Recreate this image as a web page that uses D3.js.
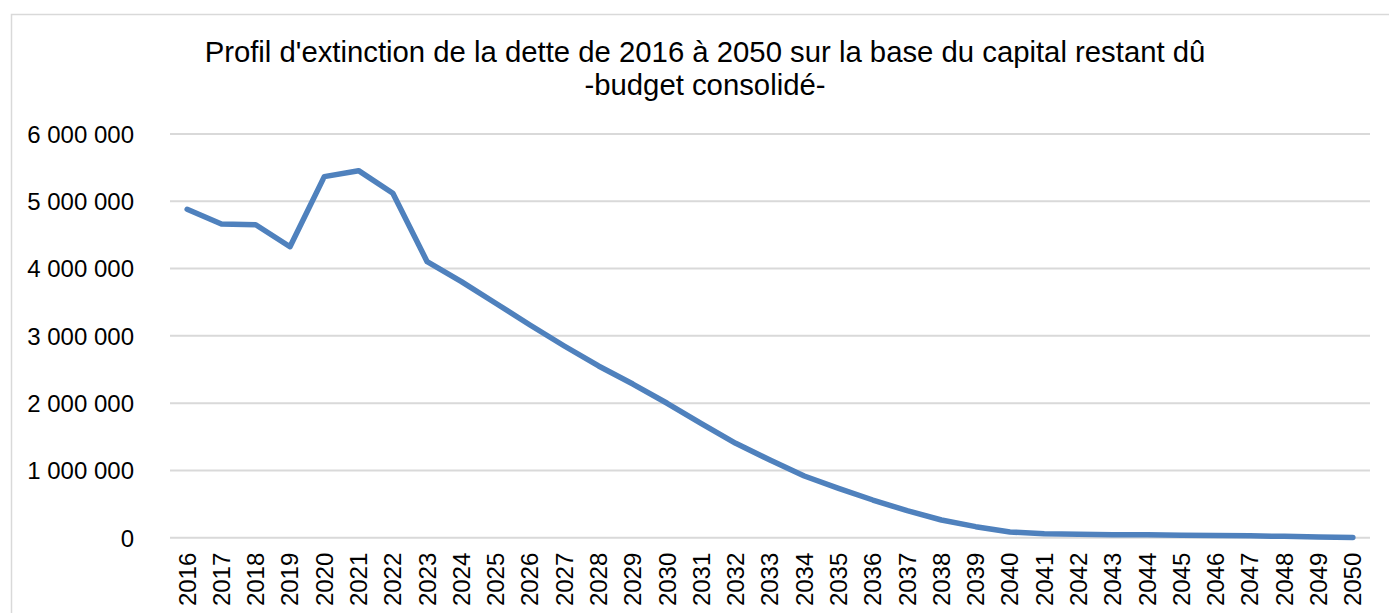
<!DOCTYPE html>
<html>
<head>
<meta charset="utf-8">
<script src="https://cdn.jsdelivr.net/npm/d3@7"></script>
<style>
  body { margin: 0; background: #fff; }
  text { font-family: "Liberation Sans", Arial, sans-serif; fill: #000; }
</style>
</head>
<body>
<svg id="chart" width="1389" height="613"></svg>
<script>
// years on the x axis
var years = [];
for (var yr = 2016; yr <= 2050; yr++) years.push(String(yr));

// capital restant dû
var capital = [
    4881000, 4663000, 4652000, 4325000, 5366000, 5455000, 5119000, 4102000,
    3805000, 3484000, 3161000, 2849000, 2552000, 2284000, 1998000, 1695000,
    1403000, 1155000, 917000, 734000, 560000, 401000, 263000, 164000,
    85000, 60000, 50000, 45000, 42000, 38000, 33000, 28000,
    20000, 10000, 4000
];

var yTicks = [0, 1000000, 2000000, 3000000, 4000000, 5000000, 6000000];
var titleLines = ["Profil d'extinction de la dette de 2016 à 2050 sur la base du capital restant dû", "-budget consolidé-"];

var svg = d3.select("#chart");
var W = 1389, H = 613;
var plotLeft = 170, plotRight = 1370, plotTop = 134, plotBottom = 537.7;

// frame of the chart area
svg.append("rect")
    .attr("x", 11.5).attr("y", 14.5)
    .attr("width", W + 20).attr("height", H + 20)
    .attr("fill", "none")
    .attr("stroke", "#d9d9d9")
    .attr("stroke-width", 1.5);

// title
svg.append("g").selectAll("text")
    .data(titleLines)
    .enter().append("text")
    .attr("x", 705)
    .attr("y", function(d, i) { return 62 + i * 33; })
    .attr("text-anchor", "middle")
    .attr("font-size", "29.3px")
    .text(function(d) { return d; });

//scales
var x = d3.scaleBand().domain(years).range([plotLeft, plotRight]);
var yScale = d3.scaleLinear().domain([0, 6000000]).range([plotBottom, plotTop]);

var fmt = function(v) { return d3.format(",")(v).replace(/,/g, " "); };

// gridlines
svg.append("g").selectAll("line")
    .data(yTicks)
    .enter().append("line")
    .attr("x1", plotLeft).attr("x2", plotRight)
    .attr("y1", function(d) { return yScale(d); })
    .attr("y2", function(d) { return yScale(d); })
    .attr("stroke", "#d9d9d9")
    .attr("stroke-width", 2);

//y axis
var yAxis = d3.axisLeft(yScale).tickValues(yTicks).tickSize(0).tickPadding(0).tickFormat(fmt);
var gy = svg.append("g")
    .attr("transform", "translate(134,0)")
    .call(yAxis);
gy.select(".domain").remove();
gy.selectAll("text").attr("font-size", "24px").attr("font-family", null).attr("dy", "0.35em");

//x axis
var xAxis = d3.axisBottom(x).tickSize(0).tickPadding(0);
var gx = svg.append("g")
    .attr("transform", "translate(0," + plotBottom + ")")
    .call(xAxis);
gx.select(".domain").remove();
gx.selectAll("text")
    .attr("font-size", "24px")
    .attr("font-family", null)
    .attr("text-anchor", "end")
    .attr("transform", "rotate(-90)")
    .attr("x", -15)
    .attr("y", 0)
    .attr("dy", "0.35em");

// the line
var line = d3.line()
    .x(function(d, i) { return x(years[i]) + x.bandwidth() / 2; })
    .y(function(d) { return yScale(d); });

svg.append("path")
    .datum(capital)
    .attr("d", line)
    .attr("fill", "none")
    .attr("stroke", "#4f81bd")
    .attr("stroke-width", 5.5)
    .attr("stroke-linejoin", "round")
    .attr("stroke-linecap", "round");
</script>
</body>
</html>
